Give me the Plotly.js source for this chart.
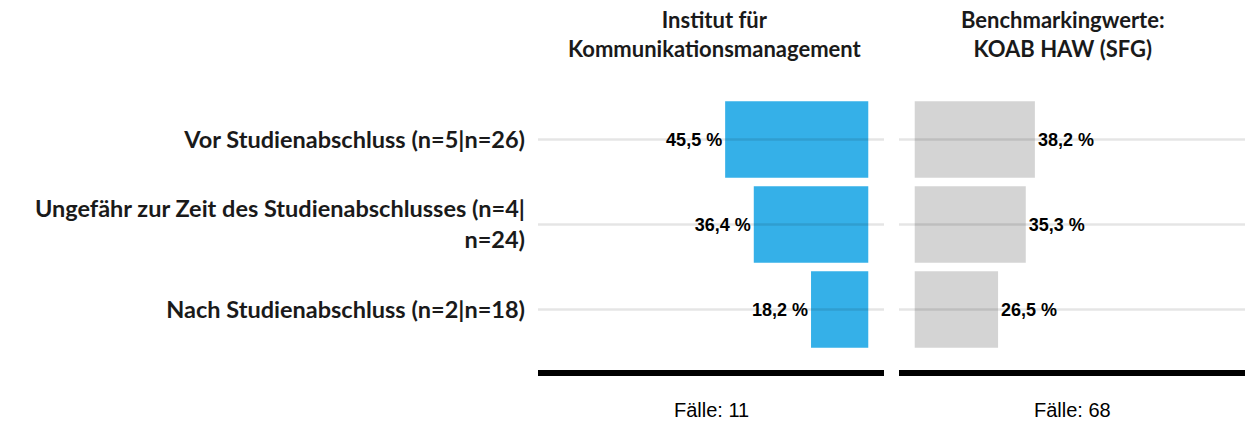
<!DOCTYPE html>
<html>
<head>
<meta charset="utf-8">
<script src="https://cdn.plot.ly/plotly-3.0.1.min.js"></script>
<style>
html,body{margin:0;padding:0;background:#fff;}
#chart{width:1252px;height:423px;}
</style>
</head>
<body>
<div id="chart"></div>
<script>
const categories = [
  "Vor Studienabschluss (n=5|n=26)",
  "Ungefähr zur Zeit des Studienabschlusses (n=4|<br>n=24)",
  "Nach Studienabschluss (n=2|n=18)"
];
const institutValues = [45.5, 36.4, 18.2];
const benchmarkValues = [38.2, 35.3, 26.5];
const panelTitles = [
  "Institut für<br>Kommunikationsmanagement",
  "Benchmarkingwerte:<br>KOAB HAW (SFG)"
];
const caseCounts = [11, 68];

const W = 1252, H = 423;
const mL = 538, mR = 7, mT = 97, mB = 71;
const plotW = W - mL - mR, plotH = H - mT - mB;
const leftDomain = [0, 346 / plotW];
const rightDomain = [(899 - mL) / plotW, 1];
const pyPaper = px => (H - mB - px) / plotH;
const pxPaper = px => (px - mL) / plotW;
const titleCenters = [pxPaper(715), pxPaper(1063)];

const labelFont = {family: "Liberation Sans, Arial, sans-serif", size: 18, color: "#000"};

const traces = [
  {
    type: "bar", orientation: "h",
    x: institutValues, y: categories,
    xaxis: "x", yaxis: "y",
    marker: {color: "#35b0e8"},
    width: 0.9,
    texttemplate: "<b>%{x:.1f} %</b>",
    textposition: "outside",
    textfont: labelFont,
    constraintext: "none",
    cliponaxis: false,
    hoverinfo: "skip"
  },
  {
    type: "bar", orientation: "h",
    x: benchmarkValues, y: categories,
    xaxis: "x2", yaxis: "y2",
    marker: {color: "#d4d4d4"},
    width: 0.9,
    texttemplate: "<b>%{x:.1f} %</b>",
    textposition: "outside",
    textfont: labelFont,
    constraintext: "none",
    cliponaxis: false,
    hoverinfo: "skip"
  }
];

const shapes = [];
[leftDomain, rightDomain].forEach(dom => {
  categories.forEach(c => {
    shapes.push({
      type: "line", layer: "above",
      xref: "paper", yref: "y",
      x0: dom[0], x1: dom[1], y0: c, y1: c,
      line: {color: "rgba(0,0,0,0.1)", width: 2.5}
    });
  });
  shapes.push({
    type: "line", layer: "above",
    xref: "paper", yref: "paper",
    x0: dom[0], x1: dom[1], y0: pyPaper(373), y1: pyPaper(373),
    line: {color: "#000", width: 6}
  });
});

const annotations = [];
[leftDomain, rightDomain].forEach((dom, i) => {
  const cx = (dom[0] + dom[1]) / 2;
  annotations.push({
    xref: "paper", yref: "paper", x: titleCenters[i], y: pyPaper(34),
    xanchor: "center", yanchor: "middle", showarrow: false,
    text: "<b>" + panelTitles[i] + "</b>",
    font: {family: "Lato, sans-serif", size: 22, color: "#1a1a1a"}
  });
  annotations.push({
    xref: "paper", yref: "paper", x: cx, y: pyPaper(410),
    xanchor: "center", yanchor: "middle", showarrow: false,
    text: "Fälle: " + caseCounts[i],
    font: {family: "Liberation Sans, Arial, sans-serif", size: 20, color: "#000"}
  });
});

const layout = {
  width: W, height: H,
  margin: {l: mL, r: mR, t: mT, b: mB, pad: 0},
  paper_bgcolor: "#fff", plot_bgcolor: "#fff",
  showlegend: false,
  separators: ", ",
  xaxis: {domain: leftDomain, range: [105, -5], showgrid: false, zeroline: false, showticklabels: false, ticks: "", fixedrange: true},
  xaxis2: {domain: rightDomain, range: [-5, 105], showgrid: false, zeroline: false, showticklabels: false, ticks: "", fixedrange: true},
  yaxis: {
    range: [2.5, -0.5], anchor: "x", showgrid: false, zeroline: false, ticks: "",
    ticklabelstandoff: 12,
    tickfont: {family: "Lato, sans-serif", size: 23.5, color: "#1a1a1a", weight: "bold"}
  },
  yaxis2: {range: [2.5, -0.5], anchor: "x2", showgrid: false, zeroline: false, ticks: "", showticklabels: false},
  shapes: shapes,
  annotations: annotations
};

Plotly.newPlot("chart", traces, layout, {displayModeBar: false, staticPlot: true});
</script>
</body>
</html>
